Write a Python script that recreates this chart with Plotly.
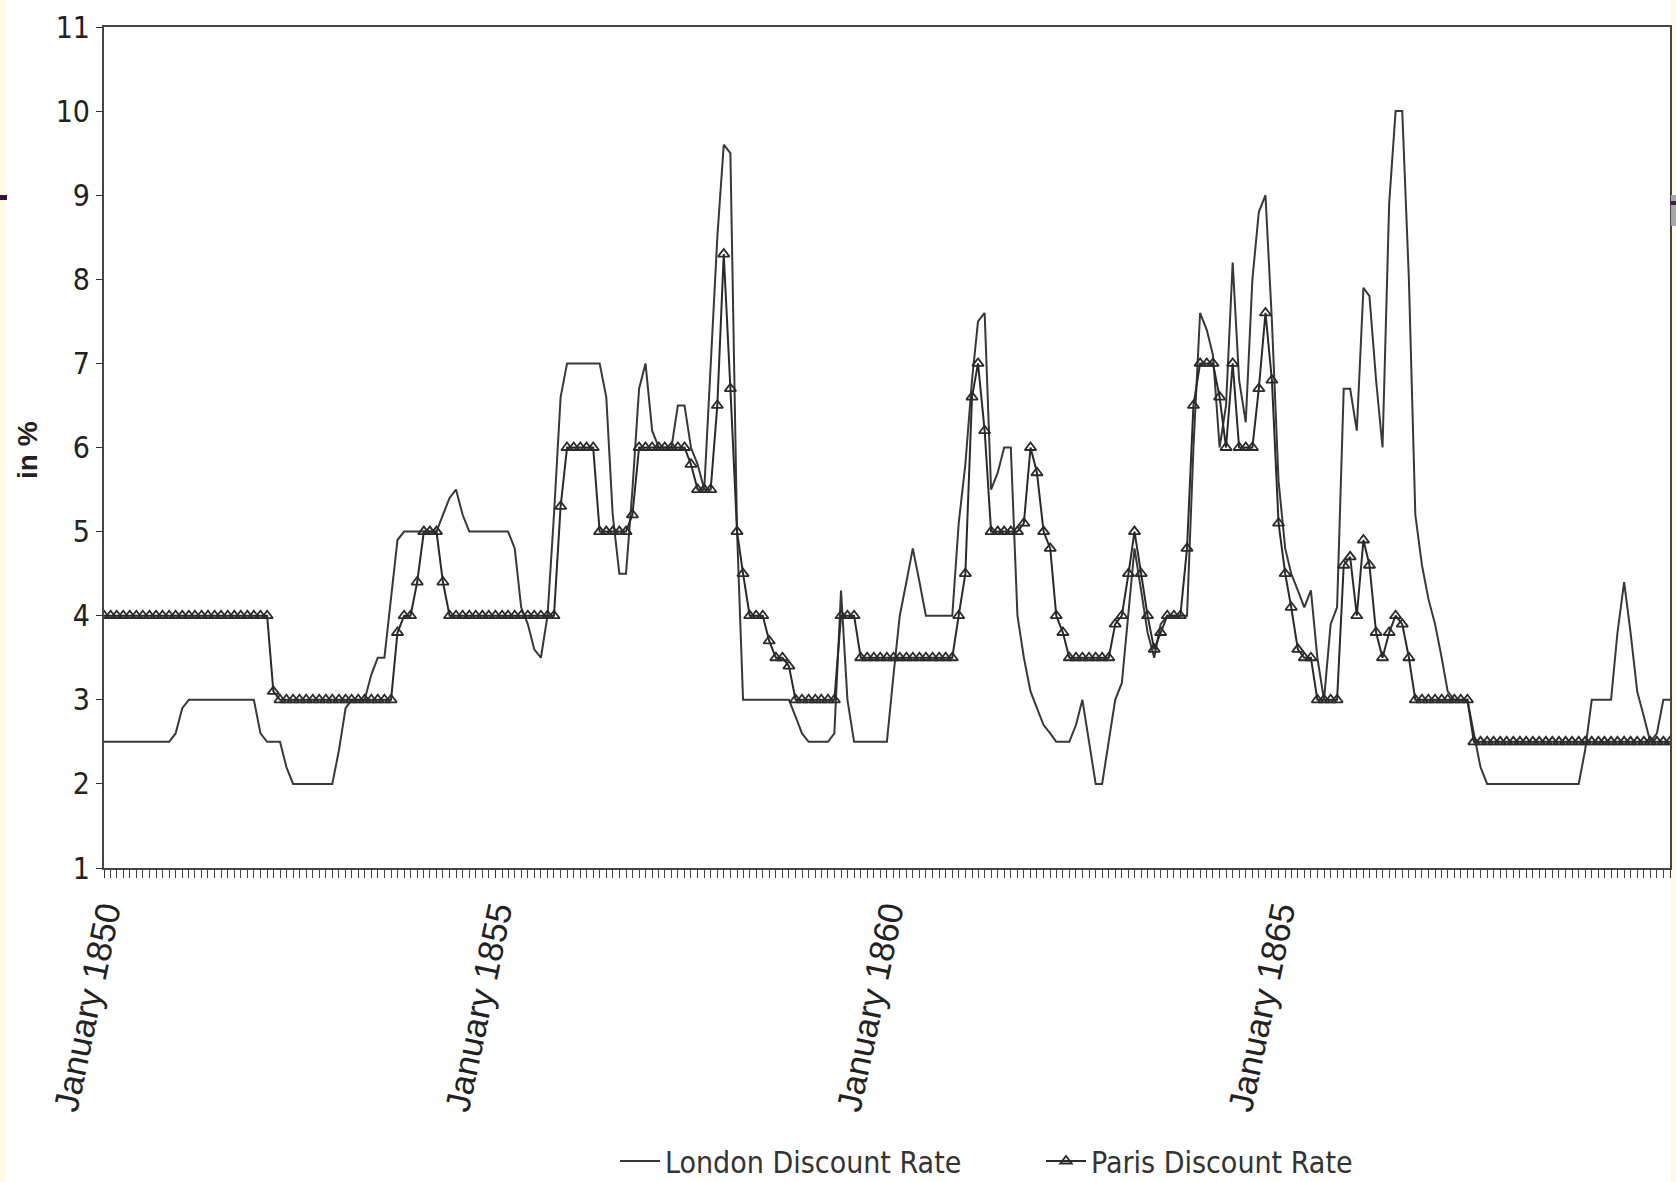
import pandas as pd
import plotly.graph_objects as go

# Monthly values, January 1850 .. January 1870
london_1850 = [2.5, 2.5, 2.5, 2.5, 2.5, 2.5, 2.5, 2.5, 2.5, 2.5, 2.5, 2.6]
london_1851 = [2.9, 3, 3, 3, 3, 3, 3, 3, 3, 3, 3, 3]
london_1852 = [2.6, 2.5, 2.5, 2.5, 2.2, 2, 2, 2, 2, 2, 2, 2]
london_1853 = [2.4, 2.9, 3, 3, 3, 3.3, 3.5, 3.5, 4.2, 4.9, 5, 5]
london_1854 = [5, 5, 5, 5, 5.2, 5.4, 5.5, 5.2, 5, 5, 5, 5]
london_1855 = [5, 5, 5, 4.8, 4.1, 3.9, 3.6, 3.5, 4.0, 5.2, 6.6, 7]
london_1856 = [7, 7, 7, 7, 7, 6.6, 5.2, 4.5, 4.5, 5.5, 6.7, 7.0]
london_1857 = [6.2, 6, 6, 6, 6.5, 6.5, 6, 5.8, 5.5, 7.0, 8.5, 9.6]
london_1858 = [9.5, 5.0, 3, 3, 3, 3, 3, 3, 3, 3, 2.8, 2.6]
london_1859 = [2.5, 2.5, 2.5, 2.5, 2.6, 4.3, 3.0, 2.5, 2.5, 2.5, 2.5, 2.5]
london_1860 = [2.5, 3.3, 4.0, 4.4, 4.8, 4.4, 4, 4, 4, 4, 4, 5.1]
london_1861 = [5.8, 6.8, 7.5, 7.6, 5.5, 5.7, 6.0, 6.0, 4.0, 3.5, 3.1, 2.9]
london_1862 = [2.7, 2.6, 2.5, 2.5, 2.5, 2.7, 3.0, 2.5, 2.0, 2.0, 2.5, 3.0]
london_1863 = [3.2, 4.0, 4.8, 4.3, 3.8, 3.5, 3.9, 4.0, 4.0, 4.0, 4.0, 6.0]
london_1864 = [7.6, 7.4, 7.1, 6.0, 6.5, 8.2, 6.8, 6.3, 8.0, 8.8, 9.0, 7.5]
london_1865 = [5.6, 4.8, 4.5, 4.3, 4.1, 4.3, 3.5, 3.0, 3.9, 4.1, 6.7, 6.7]
london_1866 = [6.2, 7.9, 7.8, 6.8, 6.0, 8.9, 10, 10, 8.0, 5.2, 4.6, 4.2]
london_1867 = [3.9, 3.5, 3.1, 3, 3, 3, 2.6, 2.2, 2, 2, 2, 2]
london_1868 = [2, 2, 2, 2, 2, 2, 2, 2, 2, 2, 2, 2.4]
london_1869 = [3, 3, 3, 3, 3.8, 4.4, 3.8, 3.1, 2.8, 2.5, 2.6, 3.0]
london_1870 = [3.0]

paris_1850 = [4, 4, 4, 4, 4, 4, 4, 4, 4, 4, 4, 4]
paris_1851 = [4, 4, 4, 4, 4, 4, 4, 4, 4, 4, 4, 4]
paris_1852 = [4, 4, 3.1, 3, 3, 3, 3, 3, 3, 3, 3, 3]
paris_1853 = [3, 3, 3, 3, 3, 3, 3, 3, 3, 3.8, 4, 4]
paris_1854 = [4.4, 5, 5, 5, 4.4, 4, 4, 4, 4, 4, 4, 4]
paris_1855 = [4, 4, 4, 4, 4, 4, 4, 4, 4, 4, 5.3, 6]
paris_1856 = [6, 6, 6, 6, 5, 5, 5, 5, 5, 5.2, 6, 6]
paris_1857 = [6, 6, 6, 6, 6, 6, 5.8, 5.5, 5.5, 5.5, 6.5, 8.3]
paris_1858 = [6.7, 5, 4.5, 4, 4, 4, 3.7, 3.5, 3.5, 3.4, 3, 3]
paris_1859 = [3, 3, 3, 3, 3, 4, 4, 4, 3.5, 3.5, 3.5, 3.5]
paris_1860 = [3.5, 3.5, 3.5, 3.5, 3.5, 3.5, 3.5, 3.5, 3.5, 3.5, 3.5, 4]
paris_1861 = [4.5, 6.6, 7, 6.2, 5, 5, 5, 5, 5, 5.1, 6, 5.7]
paris_1862 = [5, 4.8, 4, 3.8, 3.5, 3.5, 3.5, 3.5, 3.5, 3.5, 3.5, 3.9]
paris_1863 = [4, 4.5, 5, 4.5, 4, 3.6, 3.8, 4, 4, 4, 4.8, 6.5]
paris_1864 = [7, 7, 7, 6.6, 6, 7, 6, 6, 6, 6.7, 7.6, 6.8]
paris_1865 = [5.1, 4.5, 4.1, 3.6, 3.5, 3.5, 3, 3, 3, 3, 4.6, 4.7]
paris_1866 = [4, 4.9, 4.6, 3.8, 3.5, 3.8, 4, 3.9, 3.5, 3, 3, 3]
paris_1867 = [3, 3, 3, 3, 3, 3, 2.5, 2.5, 2.5, 2.5, 2.5, 2.5]
paris_1868 = [2.5, 2.5, 2.5, 2.5, 2.5, 2.5, 2.5, 2.5, 2.5, 2.5, 2.5, 2.5]
paris_1869 = [2.5, 2.5, 2.5, 2.5, 2.5, 2.5, 2.5, 2.5, 2.5, 2.5, 2.5, 2.5]
paris_1870 = [2.5]

london = (london_1850 + london_1851 + london_1852 + london_1853 + london_1854 +
          london_1855 + london_1856 + london_1857 + london_1858 + london_1859 +
          london_1860 + london_1861 + london_1862 + london_1863 + london_1864 +
          london_1865 + london_1866 + london_1867 + london_1868 + london_1869 +
          london_1870)
paris = (paris_1850 + paris_1851 + paris_1852 + paris_1853 + paris_1854 +
         paris_1855 + paris_1856 + paris_1857 + paris_1858 + paris_1859 +
         paris_1860 + paris_1861 + paris_1862 + paris_1863 + paris_1864 +
         paris_1865 + paris_1866 + paris_1867 + paris_1868 + paris_1869 +
         paris_1870)
months = pd.date_range("1850-01-01", periods=len(london), freq="MS")

COND = "DejaVu Sans Condensed, Liberation Sans, sans-serif"
REG = "Liberation Sans, Arial, sans-serif"
INK = "#333333"

W, H = 1676, 1182
ML, MR, MT, MB = 104, 6, 27, 314
PW, PH = W - ML - MR, H - MT - MB

def px_x(p):
    return (p - ML) / PW

def px_y(p):
    return (H - MB - p) / PH

fig = go.Figure()
fig.add_trace(go.Scatter(
    x=months, y=london, mode="lines", name="London Discount Rate",
    line=dict(color="#383838", width=2), legend="legend",
))
fig.add_trace(go.Scatter(
    x=months, y=paris, mode="lines+markers", name="Paris Discount Rate",
    line=dict(color="#2a2a2a", width=2), legend="legend2",
    marker=dict(symbol="triangle-up-open", size=10, color="#2a2a2a",
                line=dict(width=1.8, color="#2a2a2a")),
))

shapes = [
    # slide decoration strips at the left and right edges
    dict(type="rect", xref="paper", yref="paper", x0=px_x(0), x1=px_x(6),
         y0=px_y(H), y1=px_y(0), fillcolor="#fdfbe3", line=dict(width=0), layer="below"),
    dict(type="rect", xref="paper", yref="paper", x0=px_x(1671), x1=px_x(W),
         y0=px_y(H), y1=px_y(0), fillcolor="#fdfbe3", line=dict(width=0), layer="below"),
    dict(type="rect", xref="paper", yref="paper", x0=px_x(0), x1=px_x(7),
         y0=px_y(200), y1=px_y(195), fillcolor="#3a0d3a", line=dict(width=0)),
    dict(type="rect", xref="paper", yref="paper", x0=px_x(1671), x1=px_x(W),
         y0=px_y(226), y1=px_y(195), fillcolor="#a8a8a8", line=dict(width=0)),
    dict(type="rect", xref="paper", yref="paper", x0=px_x(1671), x1=px_x(W),
         y0=px_y(205), y1=px_y(201), fillcolor="#4a1a4a", line=dict(width=0)),
]

legend_common = dict(orientation="h", yanchor="middle", xanchor="left",
                     font=dict(family=COND, size=30, color=INK), itemwidth=40,
                     bgcolor="rgba(0,0,0,0)")

fig.update_layout(
    width=W, height=H,
    margin=dict(l=ML, r=MR, t=MT, b=MB, autoexpand=False),
    paper_bgcolor="white", plot_bgcolor="white",
    showlegend=True,
    legend=dict(x=px_x(615), y=px_y(1161), **legend_common),
    legend2=dict(x=px_x(1041), y=px_y(1161), **legend_common),
    shapes=shapes,
    annotations=[dict(text="<b>in %</b>", xref="paper", yref="paper",
                      x=px_x(27), y=px_y(450), xanchor="center", yanchor="middle",
                      textangle=-90, showarrow=False,
                      font=dict(family=REG, size=28, color="#222222"))],
    xaxis=dict(
        type="date", range=["1850-01-01", "1870-01-01"], automargin=False,
        tick0="1850-01-01", dtick="M60", tickformat="%B %Y",
        tickangle=-78, ticks="outside", ticklen=8, tickcolor=INK,
        tickfont=dict(family=REG, size=35, color="#222222"),
        minor=dict(dtick="M1", ticks="outside", ticklen=8, tickcolor="#444444", tickwidth=1.2),
        showline=True, linecolor="#444444", linewidth=2, mirror=True,
        showgrid=False, zeroline=False,
    ),
    yaxis=dict(
        range=[1, 11], dtick=1, tick0=1, ticks="outside", ticklen=6, tickcolor=INK,
        automargin=False,
        tickfont=dict(family=COND, size=30, color="#222222"),
        showline=True, linecolor="#444444", linewidth=2, mirror=True,
        showgrid=False, zeroline=False,
    ),
)

fig.write_html("out.html", config={"displayModeBar": False},
               post_script="document.body.style.margin='0px';")
